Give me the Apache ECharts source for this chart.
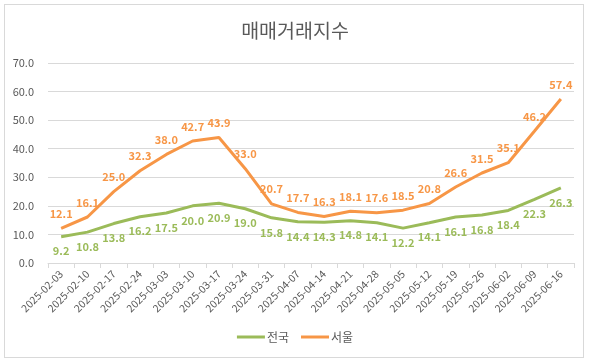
<!DOCTYPE html>
<html><head><meta charset="utf-8">
<script src="https://cdn.jsdelivr.net/npm/echarts@6/dist/echarts.min.js"></script>
<style>html,body{margin:0;padding:0;background:#fff}#c{width:590px;height:362px}
#frame{position:absolute;left:4px;top:4px;width:578px;height:352px;border:1px solid #d9d9d9;pointer-events:none}</style>
</head><body><div id="c"></div><div id="frame"></div>
<script>
const categories = ['2025-02-03','2025-02-10','2025-02-17','2025-02-24','2025-03-03','2025-03-10','2025-03-17','2025-03-24','2025-03-31','2025-04-07','2025-04-14','2025-04-21','2025-04-28','2025-05-05','2025-05-12','2025-05-19','2025-05-26','2025-06-02','2025-06-09','2025-06-16'];
const national = [9.2,10.8,13.8,16.2,17.5,20.0,20.9,19.0,15.8,14.4,14.3,14.8,14.1,12.2,14.1,16.1,16.8,18.4,22.3,26.3];
const seoul = [12.1,16.1,25.0,32.3,38.0,42.7,43.9,33.0,20.7,17.7,16.3,18.1,17.6,18.5,20.8,26.6,31.5,35.1,46.2,57.4];
const seriesNames = ['전국','서울'];
const FONT = '"Noto Sans CJK KR", "Noto Sans", sans-serif';
const chart = echarts.init(document.getElementById('c'));
chart.setOption({
  animation:false,
  textStyle:{fontFamily:FONT},
  title:{text:'매매거래지수',left:'center',top:16,textStyle:{fontSize:19.5,fontWeight:'normal',color:'#595959',fontFamily:FONT}},
  legend:{bottom:14,left:'center',itemWidth:28,itemHeight:3,itemGap:12,icon:'rect',
    textStyle:{fontSize:12,color:'#595959',fontFamily:FONT,padding:[0,0,0,-3]},data:seriesNames},
  grid:{left:48,right:16,top:63,bottom:99},
  xAxis:{type:'category',data:categories,boundaryGap:true,
    axisLine:{lineStyle:{color:'#d9d9d9'}},axisTick:{show:true,alignWithLabel:false,lineStyle:{color:'#d9d9d9'},length:5},
    axisLabel:{rotate:45,fontSize:10.5,color:'#595959',interval:0,margin:9}},
  yAxis:{type:'value',min:0,max:70,interval:10,
    axisLine:{show:false},axisTick:{show:false},
    splitLine:{lineStyle:{color:'#d9d9d9'}},
    axisLabel:{fontSize:11,color:'#595959',formatter:v=>v.toFixed(1),margin:14}},
  series:[
    {name:seriesNames[0],type:'line',data:national,symbol:'circle',symbolSize:0.1,showSymbol:true,lineStyle:{width:3,color:'#9BBB59'},itemStyle:{color:'#9BBB59'},
      labelLayout:{hideOverlap:false},
      label:{show:true,position:'bottom',distance:9,fontSize:11,fontWeight:'bold',color:'#9BBB59',formatter:p=>p.value.toFixed(1)}},
    {name:seriesNames[1],type:'line',data:seoul,symbol:'circle',symbolSize:0.1,showSymbol:true,lineStyle:{width:3,color:'#F79646'},itemStyle:{color:'#F79646'},
      labelLayout:{hideOverlap:false},
      label:{show:true,position:'top',distance:9,fontSize:11,fontWeight:'bold',color:'#F79646',formatter:p=>p.value.toFixed(1)}}
  ]
});
</script></body></html>
